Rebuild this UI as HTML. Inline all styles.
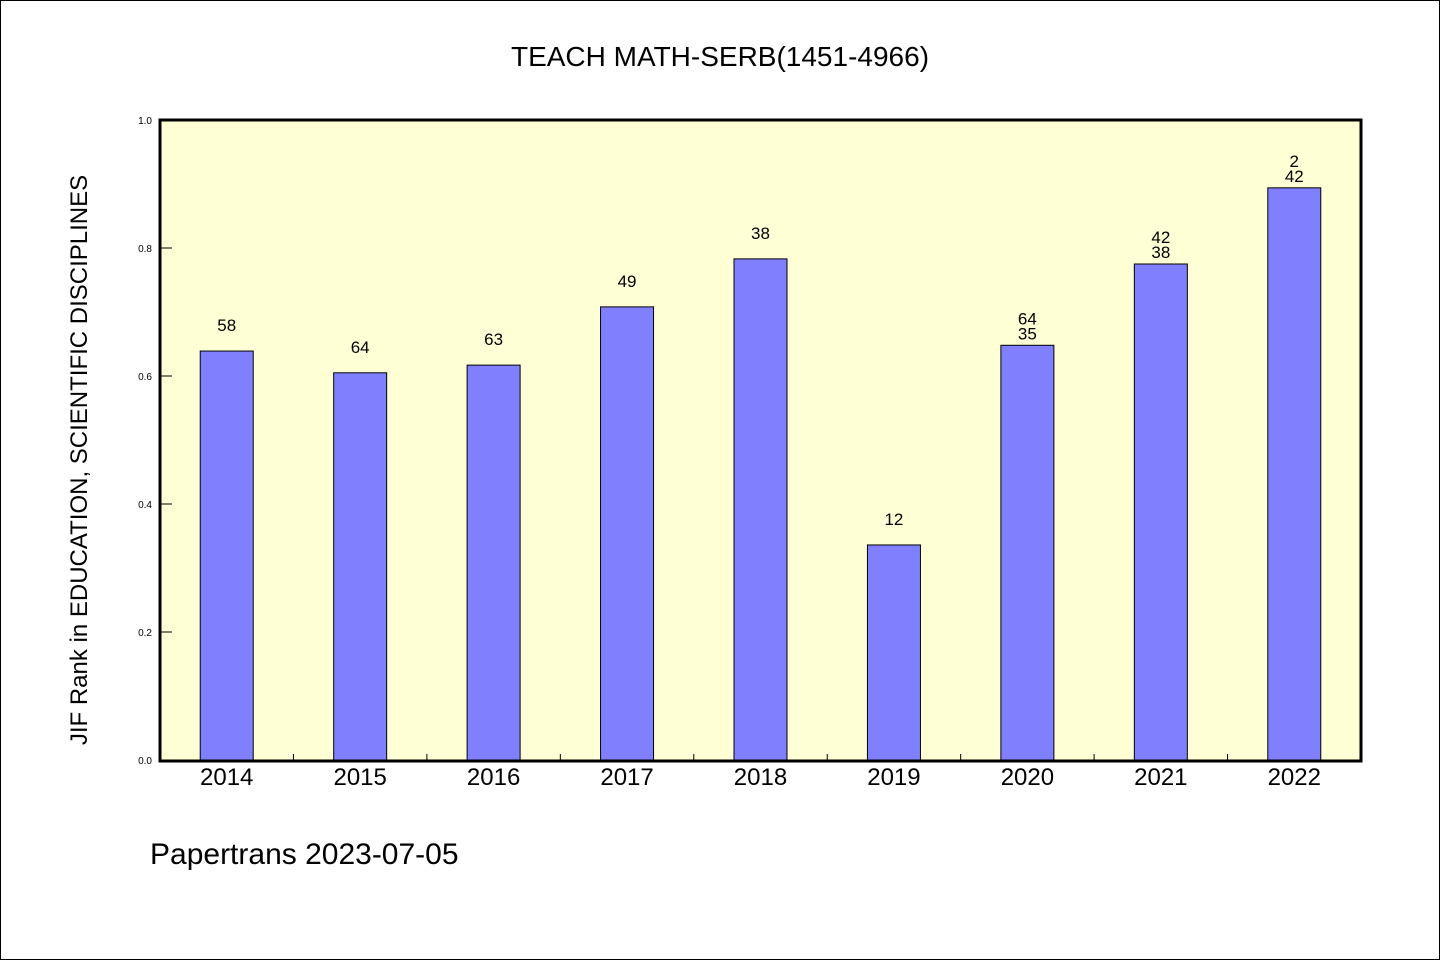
<!DOCTYPE html>
<html><head><meta charset="utf-8"><style>
html,body{margin:0;padding:0;background:#fff}
svg{display:block}
text{font-family:"Liberation Sans","DejaVu Sans",sans-serif}
</style></head><body>
<svg width="1440" height="960" viewBox="0 0 1440 960">
<rect x="0.5" y="0.5" width="1439" height="959" fill="#fff" stroke="#000"/>
<text x="720" y="66" text-anchor="middle" font-size="28" font-family="Liberation Mono, monospace">TEACH MATH-SERB(1451-4966)</text>
<rect x="160" y="120" width="1201" height="641" fill="#ffffd5"/>
<g id="yticks"></g>
<g id="bars"></g>
<rect x="160" y="120" width="1201" height="641" fill="none" stroke="#000" stroke-width="3"/>
<text transform="translate(87,460) rotate(-90)" text-anchor="middle" font-size="24" font-family="Liberation Mono, monospace">JIF Rank in EDUCATION, SCIENTIFIC DISCIPLINES</text>
<text x="150" y="864" font-size="30" font-family="Liberation Mono, monospace">Papertrans 2023-07-05</text>
</svg>
<script>
const categories=["2014","2015","2016","2017","2018","2019","2020","2021","2022"];
const values=[0.639,0.605,0.617,0.708,0.783,0.336,0.648,0.775,0.894];
const labelTop=["","","","","","","64","42","2"];
const labelBottom=["58","64","63","49","38","12","35","38","42"];
const yTicks=[0,0.2,0.4,0.6,0.8,1.0];
const NS="http://www.w3.org/2000/svg";
const X0=160,W=1201,Y0=760,H=640;
const step=W/categories.length;
const y=v=>Y0-v*H;
const xc=i=>X0+step*(i+0.5);
function mk(tag,attrs,parent,txt){const e=document.createElementNS(NS,tag);for(const k in attrs)e.setAttribute(k,attrs[k]);if(txt!==undefined)e.textContent=txt;parent.appendChild(e);return e;}
const yt=document.getElementById('yticks');
yTicks.forEach(t=>{
  const l=mk('line',{x1:X0,x2:X0+12,y1:y(t),y2:y(t),stroke:'#000','stroke-width':1},yt);
  
  
  const tx=mk('text',{x:X0-8,y:y(t)+4,'text-anchor':'end','font-size':10},yt,t.toFixed(1));
  
  
});
const g=document.getElementById('bars');
categories.forEach((c,i)=>{
  const bw=53;
  const r=mk('rect',{x:xc(i)-bw/2,y:y(values[i]),width:bw,height:Y0-y(values[i]),fill:'#8080ff',stroke:'#000','stroke-width':1},g);
  
  
  if(i>0){
    const tk=mk('line',{x1:X0+step*i,x2:X0+step*i,y1:Y0,y2:Y0-6,stroke:'#000','stroke-width':1},g);
    
    
  }
  const xl=mk('text',{x:xc(i),y:785,'text-anchor':'middle','font-size':24},g,c);
  
  
  if(labelTop[i]){
    const a=mk('text',{x:xc(i),y:y(values[i])-21,'text-anchor':'middle','font-size':17},g,labelTop[i]);
    
    
    const b=mk('text',{x:xc(i),y:y(values[i])-6,'text-anchor':'middle','font-size':17},g,labelBottom[i]);
    
    
  } else {
    const b=mk('text',{x:xc(i),y:y(values[i])-20,'text-anchor':'middle','font-size':17},g,labelBottom[i]);
    
    
  }
});
</script>
</body></html>
